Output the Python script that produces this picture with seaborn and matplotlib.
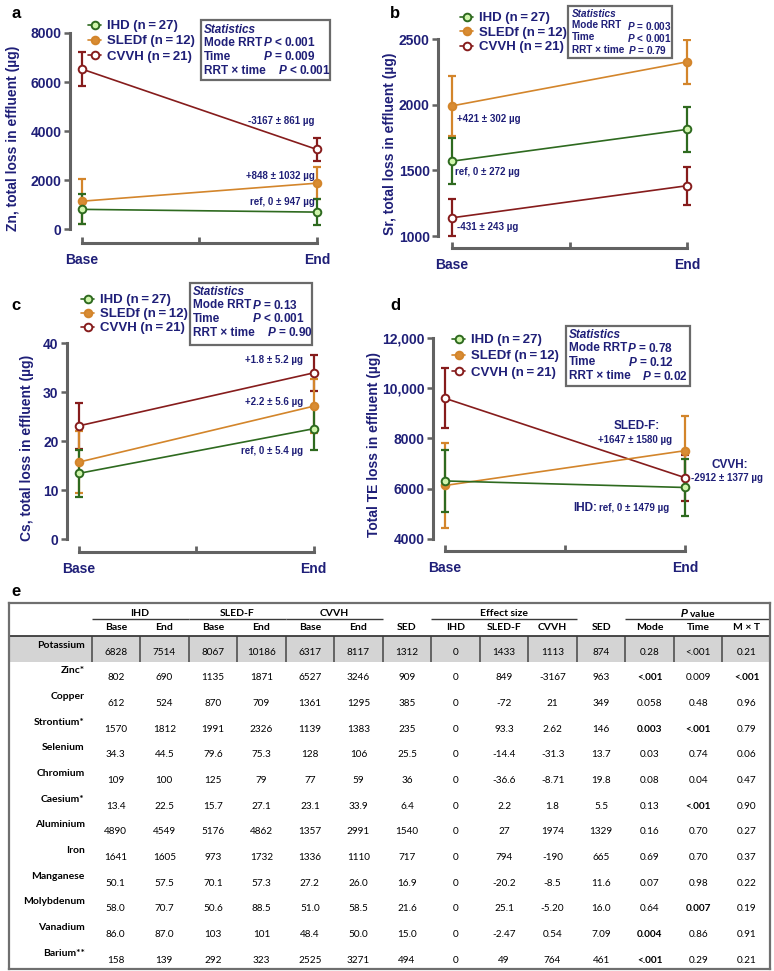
import numpy as np
import pandas as pd
import seaborn as sns
import matplotlib.pyplot as plt
from matplotlib.patches import Rectangle

W, H = 774, 971

# ---- data: panels a-d ----
times = ["Base", "End"]
groups = ["IHD", "SLEDf", "CVVH"]
group_n = [27, 12, 21]

zn_mean = {"IHD": [802, 690], "SLEDf": [1135, 1871], "CVVH": [6527, 3246]}
zn_err = {"IHD": [615, 540], "SLEDf": [920, 650], "CVVH": [690, 475]}
sr_mean = {"IHD": [1570, 1812], "SLEDf": [1991, 2326], "CVVH": [1139, 1383]}
sr_err = {"IHD": [175, 170], "SLEDf": [230, 170], "CVVH": [140, 145]}
cs_mean = {"IHD": [13.4, 22.5], "SLEDf": [15.7, 27.1], "CVVH": [23.1, 33.9]}
cs_err = {"IHD": [4.8, 4.4], "SLEDf": [6.3, 5.5], "CVVH": [4.7, 3.7]}
te_mean = {"IHD": [6310, 6050], "SLEDf": [6130, 7515], "CVVH": [9600, 6440]}
te_err = {"IHD": [1230, 1130], "SLEDf": [1700, 1390], "CVVH": [1190, 915]}

zn_ticks = [0, 2000, 4000, 6000, 8000]
sr_ticks = [1000, 1500, 2000, 2500]
cs_ticks = [0, 10, 20, 30, 40]
te_ticks = [4000, 6000, 8000, 10000, 12000]

stats_a = [("Mode RRT", "$P$ < 0.001"), ("Time", "$P$ = 0.009"), ("RRT \u00d7 time", "$P$ < 0.001")]
stats_b = [("Mode RRT", "$P$ = 0.003"), ("Time", "$P$ < 0.001"), ("RRT \u00d7 time", "$P$ = 0.79")]
stats_c = [("Mode RRT", "$P$ = 0.13"), ("Time", "$P$ < 0.001"), ("RRT \u00d7 time", "$P$ = 0.90")]
stats_d = [("Mode RRT", "$P$ = 0.78"), ("Time", "$P$ = 0.12"), ("RRT \u00d7 time", "$P$ = 0.02")]

# ---- data: table e ----
elements = ["Potassium", "Zinc*", "Copper", "Strontium*", "Selenium", "Chromium", "Caesium*",
            "Aluminium", "Iron", "Manganese", "Molybdenum", "Vanadium", "Barium**"]
ihd_base = ["6828", "802", "612", "1570", "34.3", "109", "13.4", "4890", "1641", "50.1", "58.0", "86.0", "158"]
ihd_end = ["7514", "690", "524", "1812", "44.5", "100", "22.5", "4549", "1605", "57.5", "70.7", "87.0", "139"]
sled_base = ["8067", "1135", "870", "1991", "79.6", "125", "15.7", "5176", "973", "70.1", "50.6", "103", "292"]
sled_end = ["10186", "1871", "709", "2326", "75.3", "79", "27.1", "4862", "1732", "57.3", "88.5", "101", "323"]
cvvh_base = ["6317", "6527", "1361", "1139", "128", "77", "23.1", "1357", "1336", "27.2", "51.0", "48.4", "2525"]
cvvh_end = ["8117", "3246", "1295", "1383", "106", "59", "33.9", "2991", "1110", "26.0", "58.5", "50.0", "3271"]
sed_mean = ["1312", "909", "385", "235", "25.5", "36", "6.4", "1540", "717", "16.9", "21.6", "15.0", "494"]
eff_ihd = ["0", "0", "0", "0", "0", "0", "0", "0", "0", "0", "0", "0", "0"]
eff_sled = ["1433", "849", "-72", "93.3", "-14.4", "-36.6", "2.2", "27", "794", "-20.2", "25.1", "-2.47", "49"]
eff_cvvh = ["1113", "-3167", "21", "2.62", "-31.3", "-8.71", "1.8", "1974", "-190", "-8.5", "-5.20", "0.54", "764"]
sed_eff = ["874", "963", "349", "146", "13.7", "19.8", "5.5", "1329", "665", "11.6", "16.0", "7.09", "461"]
p_mode = ["0.28", "<.001", "0.058", "0.003", "0.03", "0.08", "0.13", "0.16", "0.69", "0.07", "0.64", "0.004", "<.001"]
p_time = ["<.001", "0.009", "0.48", "<.001", "0.74", "0.04", "<.001", "0.70", "0.70", "0.98", "0.007", "0.86", "0.29"]
p_mxt = ["0.21", "<.001", "0.96", "0.79", "0.06", "0.47", "0.90", "0.27", "0.37", "0.22", "0.19", "0.91", "0.21"]
col_headers = ["Base", "End", "Base", "End", "Base", "End", "SED", "IHD", "SLED-F", "CVVH", "SED", "Mode", "Time", "M \u00d7 T"]
group_headers = ["IHD", "SLED-F", "CVVH", "Effect size", "$P$ value"]
group_spans = [(0, 1), (2, 3), (4, 5), (7, 9), (11, 13)]
bold_cells = [(1, 11), (1, 13), (3, 11), (3, 12), (6, 12), (10, 12), (11, 11), (12, 11)]

# ---- style ----
navy = "#1f1f78"
grey = "#626262"
line_col = {"IHD": "#2e6a1f", "SLEDf": "#d3852b", "CVVH": "#861c1c"}
face_col = {"IHD": "#cff5ab", "SLEDf": "#d98c33", "CVVH": "white"}

sns.set_theme(style="ticks")
plt.rcParams["font.family"] = ["Liberation Sans", "DejaVu Sans"]
plt.rcParams["font.weight"] = "bold"
plt.rcParams["mathtext.fontset"] = "custom"
plt.rcParams["mathtext.it"] = "Liberation Sans:italic:bold"
plt.rcParams["mathtext.rm"] = "Liberation Sans:bold"
plt.rcParams["mathtext.bf"] = "Liberation Sans:bold"

fig = plt.figure(figsize=(W / 100, H / 100), dpi=100)


def fx(x):
    return x / W


def fy(y):
    return 1 - y / H


def make_axes(left, top, right, bottom):
    return fig.add_axes([fx(left), fy(bottom), (right - left) / W, (bottom - top) / H])


def ftext(x, y, s, **kw):
    fig.text(fx(x), fy(y), s, transform=fig.transFigure, **kw)


def draw_panel(box, xlim, ylim, means, errs, ticks, ylabel, label_x, leg_xy, leg_sp,
               stats, st_box, st_x, st_ys, st_px, st_size, notes):
    ax = make_axes(*box)
    handles = {}
    for g, n in reversed(list(zip(groups, group_n))):
        df = pd.DataFrame({"t": np.arange(len(times)), "value": means[g], "err": errs[g]})
        ax.errorbar(df["t"], df["value"], yerr=df["err"], fmt="none", ecolor=line_col[g],
                    elinewidth=1.6, capsize=3, capthick=1.6, zorder=2)
        sns.lineplot(data=df, x="t", y="value", ax=ax, color=line_col[g], lw=1.2,
                     marker="o", markersize=5.5, markerfacecolor=face_col[g],
                     markeredgecolor=line_col[g], markeredgewidth=1.4, errorbar=None,
                     label=f"{g} (n\u2009=\u2009{n})", zorder=3)
        handles[g] = ax.get_lines()[-1]
    ax.set_xlim(*xlim)
    ax.set_ylim(*ylim)
    sns.despine(ax=ax)
    ax.spines["left"].set_bounds(ticks[0], ticks[-1])
    ax.spines["bottom"].set_bounds(0, 1)
    for s in ["left", "bottom"]:
        ax.spines[s].set_color(grey)
        ax.spines[s].set_linewidth(2.2)
    ax.set_xticks([0, 0.5, 1])
    ax.set_xticklabels([times[0], "", times[1]])
    ax.set_yticks(ticks)
    ax.set_yticklabels([f"{v:,}" if v >= 10000 else f"{v}" for v in ticks])
    ax.tick_params(axis="x", direction="in", length=4, width=2, color=grey, pad=7,
                   labelsize=10, labelcolor=navy)
    ax.tick_params(axis="y", direction="out", length=4, width=1.8, color=grey, pad=2,
                   labelsize=10, labelcolor=navy)
    ax.set_xlabel("")
    ax.set_ylabel(ylabel, fontsize=10, color=navy, fontweight="bold")
    ax.yaxis.label.set_va("center")
    ax.yaxis.set_label_coords((label_x - box[0]) / (box[2] - box[0]), 0.5)
    ax.legend([handles[g] for g in groups], [handles[g].get_label() for g in groups],
              loc="upper left", bbox_to_anchor=(fx(leg_xy[0]), fy(leg_xy[1])),
              bbox_transform=fig.transFigure, frameon=False, handlelength=1.0,
              handletextpad=0.45, labelspacing=leg_sp, borderpad=0, borderaxespad=0,
              prop=dict(size=9.5, weight="bold"), labelcolor=navy)
    x0, y0, x1, y1 = st_box
    fig.add_artist(Rectangle((fx(x0), fy(y1)), (x1 - x0) / W, (y1 - y0) / H,
                             transform=fig.transFigure, fill=False, ec="#6a6a6a", lw=1.6))
    ftext(st_x, st_ys[0], "Statistics", fontsize=st_size, color=navy, style="italic",
          va="center", ha="left")
    for (lab, p), y, px in zip(stats, st_ys[1:], st_px):
        ftext(st_x, y, lab, fontsize=st_size, color=navy, va="center", ha="left")
        ftext(px, y, p, fontsize=st_size, color=navy, va="center", ha="left")
    for s, x, y, ha, size in notes:
        ftext(x, y, s, fontsize=size, color=navy, va="center", ha=ha)
    return ax


draw_panel((70, 33, 340, 243), (-0.051, 1.098), (-571, 8000), zn_mean, zn_err, zn_ticks,
           "Zn, total loss in effluent (\u00b5g)", 13, (88, 20), 0.22,
           stats_a, (201, 20, 330, 80), 204, (30, 43, 57, 71), (263, 263, 278), 8.5,
           [("-3167 \u00b1 861 \u00b5g", 315, 121, "right", 7),
            ("+848 \u00b1 1032 \u00b5g", 315, 176, "right", 7),
            ("ref, 0 \u00b1 947 \u00b5g", 315, 202, "right", 7)])

draw_panel((438, 39, 710, 248), (-0.06, 1.098), (909, 2500), sr_mean, sr_err, sr_ticks,
           "Sr, total loss in effluent (\u00b5g)", 390, (460, 12), 0.18,
           stats_b, (568, 6, 672, 58), 572, (14, 25.5, 37.5, 50), (627, 627, 628), 7.2,
           [("+421 \u00b1 302 \u00b5g", 457, 119, "left", 7),
            ("ref, 0 \u00b1 272 \u00b5g", 455, 172, "left", 7),
            ("-431 \u00b1 243 \u00b5g", 457, 227, "left", 7)])

draw_panel((67, 343, 337, 552), (-0.051, 1.10), (-2.65, 40), cs_mean, cs_err, cs_ticks,
           "Cs, total loss in effluent (\u00b5g)", 27, (81, 294), 0.14,
           stats_c, (190, 283, 312, 345), 193, (292, 305, 319, 333), (252, 252, 267), 8.5,
           [("+1.8 \u00b1 5.2 \u00b5g", 303, 360, "right", 7),
            ("+2.2 \u00b1 5.6 \u00b5g", 303, 402, "right", 7),
            ("ref, 0 \u00b1 5.4 \u00b5g", 303, 451, "right", 7)])

draw_panel((433, 338, 710, 551), (-0.05, 1.104), (3522, 12000), te_mean, te_err, te_ticks,
           "Total TE loss in effluent (\u00b5g)", 374, (452, 334), 0.3,
           stats_d, (566, 326, 690, 386), 569, (335, 348, 362, 376), (627, 628, 642), 8.5,
           [("SLED-F:", 637, 426, "center", 8.5),
            ("+1647 \u00b1 1580 \u00b5g", 635, 440, "center", 7),
            ("CVVH:", 730, 465, "center", 8.5),
            ("-2912 \u00b1 1377 \u00b5g", 691, 478, "left", 7),
            ("IHD:", 597, 508, "right", 8.5),
            ("ref, 0 \u00b1 1479 \u00b5g", 599, 508, "left", 7)])

for letter, x, y in [("a", 11, 14), ("b", 390, 14), ("c", 11, 305), ("d", 390, 305), ("e", 11, 592)]:
    ftext(x, y, letter, fontsize=12, color="black", va="center", ha="left")

# ---- table e ----
ax_t = make_axes(9, 603, 770, 969)
ax_t.set_xlim(-2.2, 13.48)
ax_t.set_ylim(12.35, -1.91)
ax_t.set_xticks([])
ax_t.set_yticks([])
for s in ax_t.spines.values():
    s.set_color("#6f6f6f")
    s.set_linewidth(1.6)
    s.set_visible(True)

columns = [ihd_base, ihd_end, sled_base, sled_end, cvvh_base, cvvh_end, sed_mean,
           eff_ihd, eff_sled, eff_cvvh, sed_eff, p_mode, p_time, p_mxt]
ax_t.axhspan(-0.62, 0.39, color="#d4d4d4", zorder=0, lw=0)
ax_t.vlines(np.arange(len(columns)) - 0.5, -0.62, 0.39, color="#505050", lw=1.2)
ax_t.hlines(-0.62, -2.2, 13.48, color="#3a3a3a", lw=1.3)
for a, b in group_spans:
    right = min(b + 0.5, 13.48)
    ax_t.hlines(-1.27, a - 0.5, right, color="#3a3a3a", lw=1.0)
for (a, b), name in zip(group_spans, group_headers):
    ax_t.text((a + b) / 2, -1.52, name, ha="center", va="center", fontsize=7.5,
              family="Lato", weight="bold", color="black")
for c, name in enumerate(col_headers):
    ax_t.text(c, -0.94, name, ha="center", va="center", fontsize=7.5,
              family="Lato", weight="bold", color="black")
for r, el in enumerate(elements):
    ax_t.text(-0.64, r - 0.27, el, ha="right", va="center", fontsize=7.5,
              family="Lato", weight="bold", color="black")
    for c, col in enumerate(columns):
        ax_t.text(c, r, col[r], ha="center", va="center", fontsize=7.2,
                  family="Lato", color="black",
                  weight="bold" if (r, c) in bold_cells else "normal")

fig.savefig("out.png", dpi=100)
